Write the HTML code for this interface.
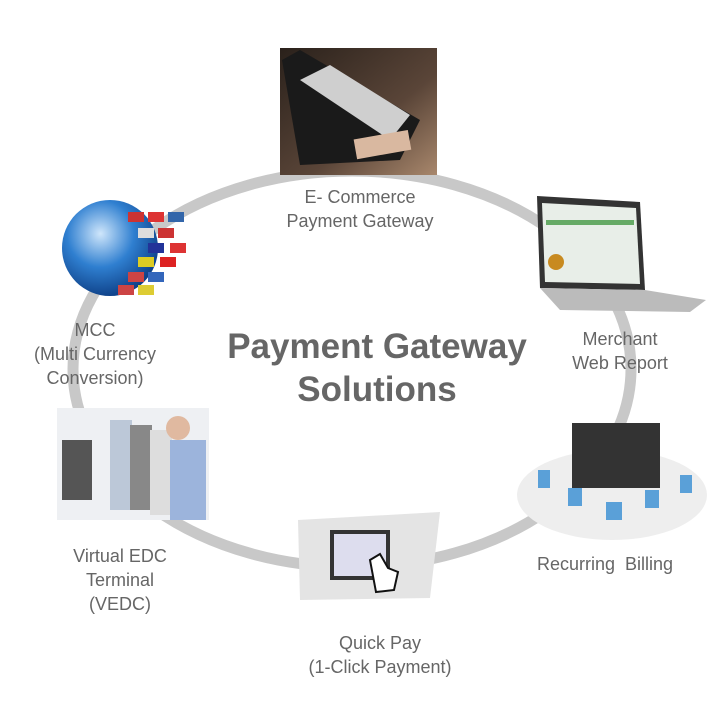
<!DOCTYPE html>
<html><head><meta charset="utf-8"><style>
html,body{margin:0;padding:0;background:#fff;}
#c{position:relative;width:722px;height:722px;overflow:hidden;font-family:"Liberation Sans",sans-serif;color:#666;}
.t{position:absolute;text-align:center;font-size:18px;line-height:24px;white-space:nowrap;}
</style></head><body><div id="c">
<svg width="722" height="722" style="position:absolute;left:0;top:0">
<defs>
<radialGradient id="g" cx="0.4" cy="0.35" r="0.7"><stop offset="0" stop-color="#cfe6fb"/><stop offset="0.5" stop-color="#2f7fd0"/><stop offset="1" stop-color="#0b3a80"/></radialGradient>
<linearGradient id="br" x1="0" y1="0" x2="1" y2="1"><stop offset="0" stop-color="#2a211b"/><stop offset="0.6" stop-color="#5a4538"/><stop offset="1" stop-color="#a8876c"/></linearGradient>
</defs>
<ellipse cx="352" cy="369" rx="279" ry="198" fill="none" stroke="#c8c8c8" stroke-width="11"/>
<rect x="280" y="48" width="157" height="127" fill="url(#br)"/>
<polygon points="282,60 300,50 420,120 400,160 300,165" fill="#1a1a1a"/>
<polygon points="300,80 330,65 410,115 390,140" fill="#cfcfcf"/>
<rect x="355" y="135" width="55" height="20" fill="#d9b8a0" transform="rotate(-10 380 145)"/>
<polygon points="537,196 640,202 645,290 540,288" fill="#333"/>
<polygon points="542,203 636,208 640,284 545,282" fill="#e8eee8"/>
<rect x="546" y="220" width="88" height="5" fill="#6a6"/>
<circle cx="556" cy="262" r="8" fill="#c88a20"/>
<polygon points="540,288 645,290 706,300 690,312 560,310" fill="#bbb"/>
<circle cx="110" cy="248" r="48" fill="url(#g)"/>
<g>
<rect x="128" y="212" width="16" height="10" fill="#c33"/><rect x="148" y="212" width="16" height="10" fill="#d33"/><rect x="168" y="212" width="16" height="10" fill="#36a"/>
<rect x="138" y="228" width="16" height="10" fill="#ddd"/><rect x="158" y="228" width="16" height="10" fill="#c33"/>
<rect x="148" y="243" width="16" height="10" fill="#239"/><rect x="170" y="243" width="16" height="10" fill="#d33"/>
<rect x="138" y="257" width="16" height="10" fill="#dc2"/><rect x="160" y="257" width="16" height="10" fill="#d22"/>
<rect x="128" y="272" width="16" height="10" fill="#c44"/><rect x="148" y="272" width="16" height="10" fill="#36b"/>
<rect x="118" y="285" width="16" height="10" fill="#c44"/><rect x="138" y="285" width="16" height="10" fill="#dc3"/>
</g>
<rect x="57" y="408" width="152" height="112" fill="#eef0f3"/>
<rect x="62" y="440" width="30" height="60" fill="#555"/>
<rect x="110" y="420" width="22" height="90" fill="#bcc8d8"/>
<rect x="130" y="425" width="22" height="85" fill="#888"/>
<rect x="150" y="430" width="22" height="85" fill="#ddd"/>
<rect x="170" y="440" width="36" height="80" fill="#9cb4dc"/>
<circle cx="178" cy="428" r="12" fill="#e0b9a0"/>
<ellipse cx="612" cy="495" rx="95" ry="45" fill="#eee"/>
<rect x="572" y="423" width="88" height="65" fill="#333"/>
<g fill="#5aa0d8"><rect x="538" y="470" width="12" height="18"/><rect x="568" y="488" width="14" height="18"/><rect x="606" y="502" width="16" height="18"/><rect x="645" y="490" width="14" height="18"/><rect x="680" y="475" width="12" height="18"/></g>
<polygon points="298,520 440,512 430,598 300,600" fill="#e4e4e4"/>
<rect x="330" y="530" width="60" height="50" fill="#333"/>
<rect x="334" y="534" width="52" height="42" fill="#dde"/>
<path d="M370 560 l10 -6 l8 14 l10 4 l-4 18 l-18 2 z" fill="#fff" stroke="#111" stroke-width="2"/>
</svg>
<div class="t" style="left:240px;top:185px;width:240px">E- Commerce<br>Payment Gateway</div>
<div class="t" style="left:550px;top:327px;width:140px">Merchant<br>Web Report</div>
<div class="t" style="left:15px;top:318px;width:160px">MCC<br>(Multi Currency<br>Conversion)</div>
<div class="t" style="left:30px;top:544px;width:180px">Virtual EDC<br>Terminal<br>(VEDC)</div>
<div class="t" style="left:510px;top:552px;width:190px">Recurring &nbsp;Billing</div>
<div class="t" style="left:300px;top:631px;width:160px">Quick Pay<br>(1-Click Payment)</div>
<div class="t" style="left:180px;top:325px;width:394px;font-size:35px;line-height:43px;font-weight:bold;color:#666">Payment Gateway<br>Solutions</div>
</div></body></html>
